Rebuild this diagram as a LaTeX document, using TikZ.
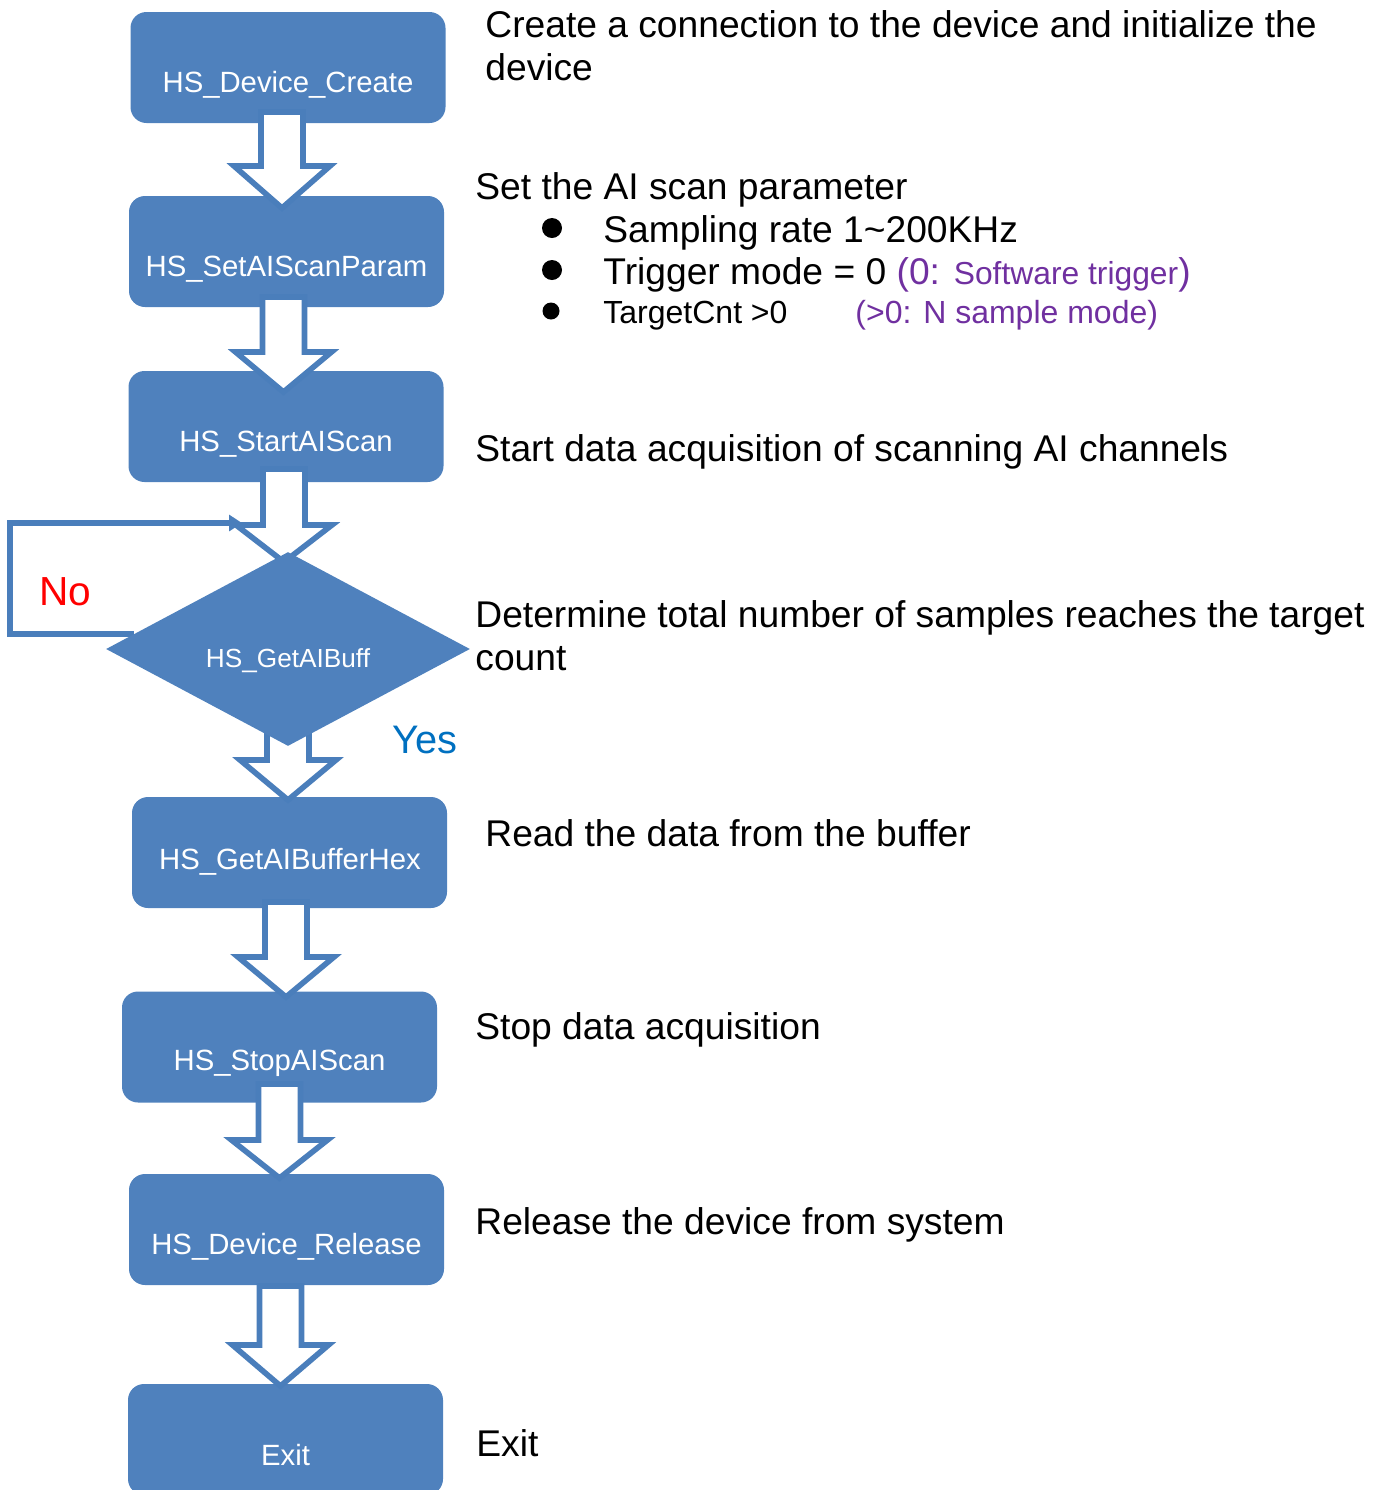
\documentclass[tikz,border=0pt]{standalone}
\usepackage{fontspec}
\setmainfont{Liberation Sans}
\usetikzlibrary{shapes.geometric,arrows.meta}
\definecolor{boxblue}{HTML}{4F81BD}
\definecolor{lineblue}{HTML}{4A7EBB}
\definecolor{notepurple}{HTML}{7030A0}
\definecolor{yesblue}{HTML}{0070C0}
\newcommand{\blockarrow}[4]{%
  \draw[blockarr] (#1-21,#2) -- (#1+21,#2) -- (#1+21,#3) -- (#1+48,#3) -- (#1,#4) -- (#1-48,#3) -- (#1-21,#3) -- cycle;}
\begin{document}
\begin{tikzpicture}[x=0.5pt,y=-0.5pt,
  procbox/.style={fill=boxblue, rounded corners=8pt, draw=none, minimum width=157.5pt, minimum height=55.5pt, inner sep=0pt},
  blockarr/.style={draw=lineblue, fill=white, line width=2.8pt, line join=miter, miter limit=10},
  boxtext/.style={text=white, font=\fontsize{14.65}{16}\selectfont, anchor=base, inner sep=0pt},
  desc/.style={font=\fontsize{18.6}{22}\selectfont, anchor=base west, inner sep=0pt},
  small/.style={font=\fontsize{16}{19}\selectfont, anchor=base west, inner sep=0pt},
  bulletdot/.style={circle, fill=black, inner sep=0pt},
  noline/.style={draw=lineblue, line width=2.6pt, line join=miter}
]
\useasboundingbox (0,0) rectangle (1388,1490);

% process boxes
\node[procbox] (b1) at (288,67.5) {};
\node[procbox] (b2) at (286.5,251.5) {};
\node[procbox] (b3) at (286,426.5) {};
\node[procbox] (b5) at (289.5,852.5) {};
\node[procbox] (b6) at (279.5,1047) {};
\node[procbox] (b7) at (286.5,1229.5) {};
\node[procbox] (b8) at (285.5,1439.5) {};

% block arrows
\blockarrow{282}{112}{166}{208}
\blockarrow{283.5}{297}{352}{392}
\blockarrow{284}{469}{525}{562}
\blockarrow{288}{720}{760}{800}
\blockarrow{286}{902}{957}{997}
\blockarrow{279.5}{1084}{1140}{1178}
\blockarrow{280.5}{1286}{1345}{1386}

% No loop
\coordinate (nostart) at (134,634);
\coordinate (noend) at (242,523);
\draw[noline, -{Triangle[length=6.5pt,width=8pt]}] (nostart) -- (10,634) -- (10,523) -- (noend);

% decision
\node[diamond, fill=boxblue, minimum width=182pt, minimum height=97pt, inner sep=0pt] (d) at (288,649) {};

% box texts
\node[boxtext] (t1) at (288,92) {HS\_Device\_Create};
\node[boxtext] (t2) at (286.5,276) {HS\_SetAIScanParam};
\node[boxtext] (t3) at (286,451) {HS\_StartAIScan};
\node[boxtext, font=\fontsize{13.1}{15}\selectfont] (t4) at (288,667) {HS\_GetAIBuff};
\node[boxtext] (t5) at (290,869) {HS\_GetAIBufferHex};
\node[boxtext] (t6) at (279.5,1070) {HS\_StopAIScan};
\node[boxtext] (t7) at (286.5,1254) {HS\_Device\_Release};
\node[boxtext] (t8) at (285.5,1465) {Exit};

% labels No / Yes
\node[anchor=base west, inner sep=0pt, text=red, font=\fontsize{20.3}{24}\selectfont] (no) at (39,605) {No};
\node[anchor=base west, inner sep=0pt, text=yesblue, font=\fontsize{19.9}{24}\selectfont] (yes) at (392,753) {Yes};

% descriptions
\node[desc] (c1a) at (485,37) {Create a connection to the device and initialize the};
\node[desc] (c1b) at (485,80) {device};
\node[desc] (c2) at (475,199) {Set the AI scan parameter};
\node[bulletdot, minimum size=10pt] (bu1) at (552,228) {};
\node[bulletdot, minimum size=10pt] (bu2) at (552,270) {};
\node[bulletdot, minimum size=8.5pt] (bu3) at (551,311) {};
\node[desc] (c2a) at (603,242) {Sampling rate 1\textasciitilde 200KHz};
\node[desc] (c2b) at (603,284) {Trigger mode = 0 \textcolor{notepurple}{(0: {\fontsize{15.9}{19}\selectfont Software trigger})}};
\node[small] (c2c) at (603,323) {TargetCnt >0};
\node[small, text=notepurple] (c2d) at (855,323) {(>0: N sample mode)};
\node[desc] (c3) at (475,461) {Start data acquisition of scanning AI channels};
\node[desc] (c4a) at (475,627) {Determine total number of samples reaches the target};
\node[desc] (c4b) at (475,670) {count};
\node[desc] (c5) at (485,846) {Read the data from the buffer};
\node[desc] (c6) at (475,1039) {Stop data acquisition};
\node[desc] (c7) at (475,1234) {Release the device from system};
\node[desc] (c8) at (476,1456) {Exit};
\end{tikzpicture}
\end{document}
